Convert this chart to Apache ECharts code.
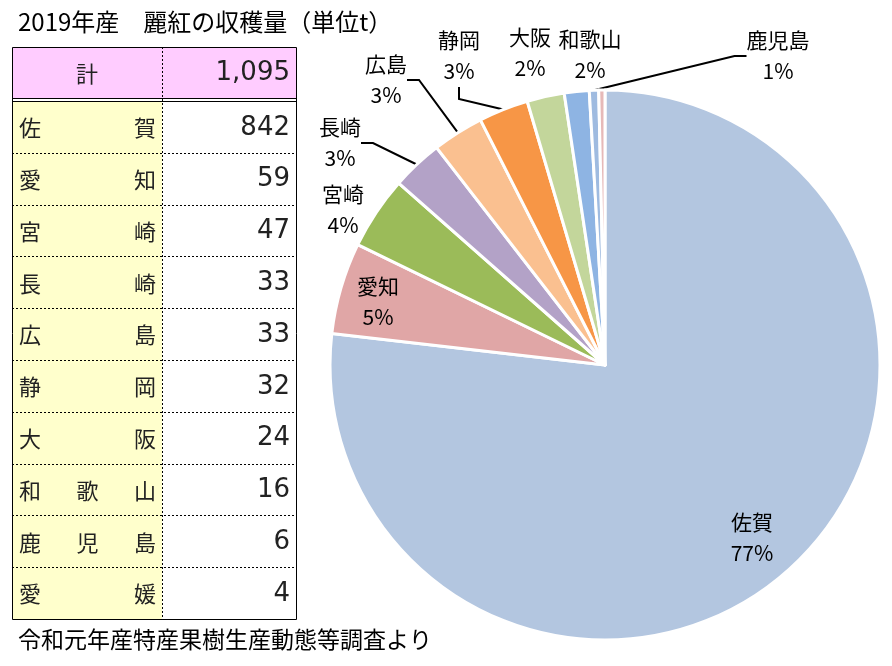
<!DOCTYPE html>
<html>
<head>
<meta charset="utf-8" />
<title>麗紅の収穫量</title>
<script src="https://cdn.jsdelivr.net/npm/echarts@6.0.0/dist/echarts.min.js"></script>
<style>
    html, body { margin: 0; padding: 0; background: #fff; }
    #main { width: 892px; height: 666px; }
</style>
</head>
<body>
<div id="main"></div>
<script type="text/javascript">
    // data
    var prefNames = ['佐賀', '愛知', '宮崎', '長崎', '広島', '静岡', '大阪', '和歌山', '鹿児島', '愛媛'];
    var harvest = [842, 59, 47, 33, 33, 32, 24, 16, 6, 4];
    var totalName = '計';
    var totalValue = '1,095';
    var titleText = '2019年産　麗紅の収穫量（単位t）';
    var sourceText = '令和元年産特産果樹生産動態等調査より';

    // styles
    var sliceColors = ['#b3c6e0', '#e0a6a6', '#9bbb59', '#b3a2c7', '#fac090',
                       '#f79646', '#c3d69b', '#8eb4e3', '#9fbbe0', '#e6b9b8'];
    // label centers (px) and whether a leader line is drawn
    var labelPos = [[752, 538], [378, 302], [343, 210], [340, 143], [386, 80],
                    [459, 56], [530, 53], [590, 55], [778, 56], null];
    var labelLineOn = [false, false, false, true, true, true, false, false, true, false];

    var jp = '"Noto Sans CJK JP", sans-serif';
    var numFont = '26px "DejaVu Sans", sans-serif';

    // table
    var tLeft = 12, tRight = 296, tMid = 162, tTop = 47, headBottom = 98, bodyTop = 101, tBottom = 619;
    var rowH = (tBottom - bodyTop) / prefNames.length;

    function buildTable() {
        var g = [];
        g.push({ type: 'rect', shape: { x: tLeft, y: tTop, width: tRight - tLeft, height: headBottom - tTop },
                 style: { fill: '#ffccff' }, silent: true });
        g.push({ type: 'rect', shape: { x: tLeft, y: bodyTop, width: tMid - tLeft, height: tBottom - bodyTop },
                 style: { fill: '#ffffcc' }, silent: true });
        for (var i = 1; i < prefNames.length; i++) {
            var y = Math.round(bodyTop + rowH * i) + 0.5;
            g.push({ type: 'line', shape: { x1: tLeft, y1: y, x2: tRight, y2: y },
                     style: { stroke: '#000', lineWidth: 1, lineDash: [2, 2] }, silent: true });
        }
        g.push({ type: 'line', shape: { x1: tMid + 0.5, y1: tTop, x2: tMid + 0.5, y2: tBottom },
                 style: { stroke: '#000', lineWidth: 1, lineDash: [2, 2] }, silent: true });
        g.push({ type: 'line', shape: { x1: tLeft, y1: headBottom + 0.5, x2: tRight, y2: headBottom + 0.5 },
                 style: { stroke: '#000', lineWidth: 1 }, silent: true });
        g.push({ type: 'line', shape: { x1: tLeft, y1: bodyTop + 0.5, x2: tRight, y2: bodyTop + 0.5 },
                 style: { stroke: '#000', lineWidth: 1 }, silent: true });
        g.push({ type: 'rect', shape: { x: tLeft + 0.5, y: tTop + 0.5, width: tRight - tLeft, height: tBottom - tTop },
                 style: { fill: 'none', stroke: '#000', lineWidth: 1 }, silent: true });

        // header
        var hy = (tTop + headBottom) / 2 + 1;
        g.push({ type: 'text', x: 87, y: hy, silent: true,
                 style: { text: totalName, font: '22px ' + jp, fill: '#222', align: 'center', verticalAlign: 'middle',
                          textAlign: 'center', textVerticalAlign: 'middle' } });
        g.push({ type: 'text', x: 290, y: hy, silent: true,
                 style: { text: totalValue, font: numFont, fill: '#222', align: 'right', verticalAlign: 'middle',
                          textAlign: 'right', textVerticalAlign: 'middle' } });

        // rows: characters of the name spread across the left cell
        for (var r = 0; r < prefNames.length; r++) {
            var cy = bodyTop + rowH * (r + 0.5) + 1;
            var chars = prefNames[r].split('');
            for (var c = 0; c < chars.length; c++) {
                var cx = 30 + (145 - 30) * c / (chars.length - 1);
                g.push({ type: 'text', x: cx, y: cy, silent: true,
                         style: { text: chars[c], font: '22px ' + jp, fill: '#222', align: 'center', verticalAlign: 'middle',
                                  textAlign: 'center', textVerticalAlign: 'middle' } });
            }
            g.push({ type: 'text', x: 290, y: cy, silent: true,
                     style: { text: String(harvest[r]), font: numFont, fill: '#222', align: 'right', verticalAlign: 'middle',
                              textAlign: 'right', textVerticalAlign: 'middle' } });
        }

        g.push({ type: 'text', x: 18, y: 22, silent: true,
                 style: { text: titleText, font: '24px ' + jp, fill: '#000', align: 'left', verticalAlign: 'middle',
                          textAlign: 'left', textVerticalAlign: 'middle' } });
        g.push({ type: 'text', x: 18, y: 639, silent: true,
                 style: { text: sourceText, font: '23px ' + jp, fill: '#000', align: 'left', verticalAlign: 'middle',
                          textAlign: 'left', textVerticalAlign: 'middle' } });
        return g;
    }

    var pieData = prefNames.map(function (n, i) {
        return {
            name: n,
            value: harvest[i],
            itemStyle: { color: sliceColors[i] },
            label: { show: labelPos[i] != null },
            labelLine: { show: labelLineOn[i] }
        };
    });

    var myChart = echarts.init(document.getElementById('main'));
    var option = {
        animation: false,
        backgroundColor: '#fff',
        graphic: buildTable(),
        series: [
            {
                type: 'pie',
                center: [605, 365],
                radius: 275,
                startAngle: 90,
                clockwise: true,
                avoidLabelOverlap: false,
                percentPrecision: 0,
                emphasis: { disabled: true },
                itemStyle: { borderColor: '#fff', borderWidth: 3 },
                label: {
                    position: 'outside',
                    formatter: '{b}\n{d}%',
                    fontFamily: 'Noto Sans CJK JP',
                    fontSize: 21,
                    lineHeight: 31,
                    color: '#000'
                },
                labelLine: {
                    length: 15,
                    length2: 12,
                    lineStyle: { color: '#000', width: 2 }
                },
                labelLayout: function (params) {
                    var p = labelPos[params.dataIndex];
                    if (!p) return {};
                    return { x: p[0], y: p[1], align: 'center', verticalAlign: 'middle' };
                },
                data: pieData
            }
        ]
    };
    myChart.setOption(option);
</script>
</body>
</html>
